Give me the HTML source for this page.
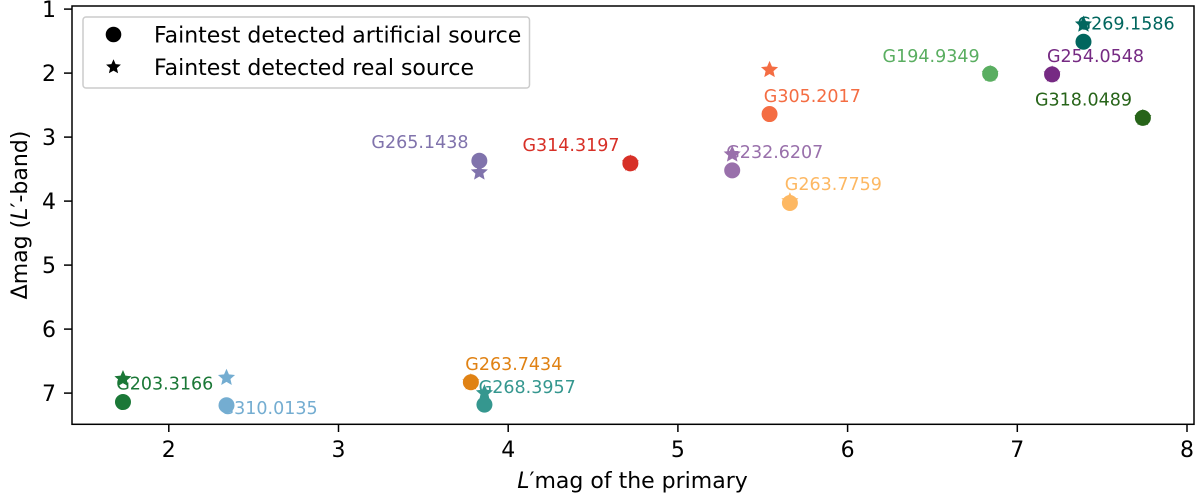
<!DOCTYPE html>
<html>
<head>
<meta charset="utf-8">
<style>
html,body{margin:0;padding:0;background:#fff;width:1200px;height:499px;overflow:hidden}
svg{display:block;font-family:"DejaVu Sans","Liberation Sans",sans-serif}
</style>
</head>
<body>
<svg id="chart" width="1200" height="499" viewBox="0 0 1200 499" xmlns="http://www.w3.org/2000/svg">
  <rect x="0" y="0" width="1200" height="499" fill="#fff"/>
  <g id="marks"></g>
  <rect x="72" y="6" width="1122" height="418.3" fill="none" stroke="#000" stroke-width="1.5"/>
  <g id="ticks"></g>
  <text x="632.5" y="488" font-size="22" text-anchor="middle" fill="#000"><tspan font-style="italic">L</tspan>′mag of the primary</text>
  <text transform="translate(27 215) rotate(-90)" font-size="22" text-anchor="middle" fill="#000">Δmag (<tspan font-style="italic">L</tspan>′-band)</text>
  <g>
    <rect x="83" y="17" width="446.5" height="71" rx="3" ry="3" fill="#fff" fill-opacity="0.8" stroke="#ccc" stroke-width="1.5"/>
    <circle cx="113.5" cy="34.5" r="7.8" fill="#000"/>
    <polygon id="legend-star" fill="#000"/>
    <text x="154" y="42.5" font-size="22" fill="#000">Faintest detected artificial source</text>
    <text x="154" y="75" font-size="22" fill="#000">Faintest detected real source</text>
  </g>
</svg>
<script>
const sourceNames = ["G265.1438","G314.3197","G305.2017","G232.6207","G263.7759","G194.9349","G254.0548","G269.1586","G318.0489","G203.3166","G310.0135","G263.7434","G268.3957"];
const primaryMag = [3.83,4.72,5.54,5.32,5.66,6.84,7.205,7.39,7.74,1.73,2.34,3.78,3.86];
const artificialDeltaMag = [3.37,3.41,2.64,3.52,4.03,2.01,2.02,1.51,2.70,7.14,7.19,6.83,7.18];
const realDeltaMag = [3.55,3.41,1.95,3.27,4.00,2.01,2.02,1.24,2.70,6.78,6.76,6.83,7.00];
const labelOffsetX = [-0.636,-0.636,-0.034,-0.035,-0.03,-0.634,-0.03,-0.035,-0.636,-0.04,-0.035,-0.033,-0.034];
const labelOffsetY = [-0.20,-0.19,-0.19,-0.195,-0.20,-0.185,-0.19,-0.19,-0.19,-0.195,0.14,-0.19,-0.18];
const sourceColors = ["#8073ac","#d73027","#f46d43","#9970ab","#fdb863","#5aae61","#762a83","#01665e","#276419","#1b7837","#74add1","#e08214","#35978f"];
const xTickValues = [2,3,4,5,6,7,8];
const yTickValues = [1,2,3,4,5,6,7];

const NS = "http://www.w3.org/2000/svg";
const xScale = v => 168.8 + (v - 2) * 169.7;
const yScale = v => 9.1 + (v - 1) * 64;

function starPoints(cx, cy, r) {
  const pts = [];
  for (let i = 0; i < 10; i++) {
    const rad = i % 2 === 0 ? r : r * 0.46;
    const a = -Math.PI / 2 + i * Math.PI / 5;
    pts.push((cx + rad * Math.cos(a)).toFixed(2) + "," + (cy + rad * Math.sin(a)).toFixed(2));
  }
  return pts.join(" ");
}

document.getElementById("legend-star").setAttribute("points", starPoints(113.5, 67, 7.8));

const marks = document.getElementById("marks");
const ticks = document.getElementById("ticks");

sourceNames.forEach((name, i) => {
  const t = document.createElementNS(NS, "text");
  
  
  t.setAttribute("x", xScale(primaryMag[i] + labelOffsetX[i]));
  t.setAttribute("y", yScale(artificialDeltaMag[i] + labelOffsetY[i]));
  t.setAttribute("font-size", "17.5");
  t.setAttribute("fill", sourceColors[i]);
  t.textContent = name;
  marks.appendChild(t);
});

sourceNames.forEach((name, i) => {
  const s = document.createElementNS(NS, "polygon");
  
  
  s.setAttribute("points", starPoints(xScale(primaryMag[i]), yScale(realDeltaMag[i]), 9));
  s.setAttribute("fill", sourceColors[i]);
  marks.appendChild(s);
});

sourceNames.forEach((name, i) => {
  const c = document.createElementNS(NS, "circle");
  
  
  c.setAttribute("cx", xScale(primaryMag[i]));
  c.setAttribute("cy", yScale(artificialDeltaMag[i]));
  c.setAttribute("r", "8");
  c.setAttribute("fill", sourceColors[i]);
  marks.appendChild(c);
});

xTickValues.forEach(v => {
  const l = document.createElementNS(NS, "line");
  
  
  l.setAttribute("x1", xScale(v));
  l.setAttribute("x2", xScale(v));
  l.setAttribute("y1", "424.3");
  l.setAttribute("y2", "432");
  l.setAttribute("stroke", "#000");
  l.setAttribute("stroke-width", "1.5");
  ticks.appendChild(l);
  const t = document.createElementNS(NS, "text");
  
  
  t.setAttribute("x", xScale(v));
  t.setAttribute("y", "457");
  t.setAttribute("font-size", "22");
  t.setAttribute("text-anchor", "middle");
  t.textContent = v;
  ticks.appendChild(t);
});

yTickValues.forEach(v => {
  const l = document.createElementNS(NS, "line");
  
  
  l.setAttribute("x1", "64");
  l.setAttribute("x2", "72");
  l.setAttribute("y1", yScale(v));
  l.setAttribute("y2", yScale(v));
  l.setAttribute("stroke", "#000");
  l.setAttribute("stroke-width", "1.5");
  ticks.appendChild(l);
  const t = document.createElementNS(NS, "text");
  
  
  t.setAttribute("x", "56");
  t.setAttribute("y", yScale(v) + 8);
  t.setAttribute("font-size", "22");
  t.setAttribute("text-anchor", "end");
  t.textContent = v;
  ticks.appendChild(t);
});
</script>
</body>
</html>
